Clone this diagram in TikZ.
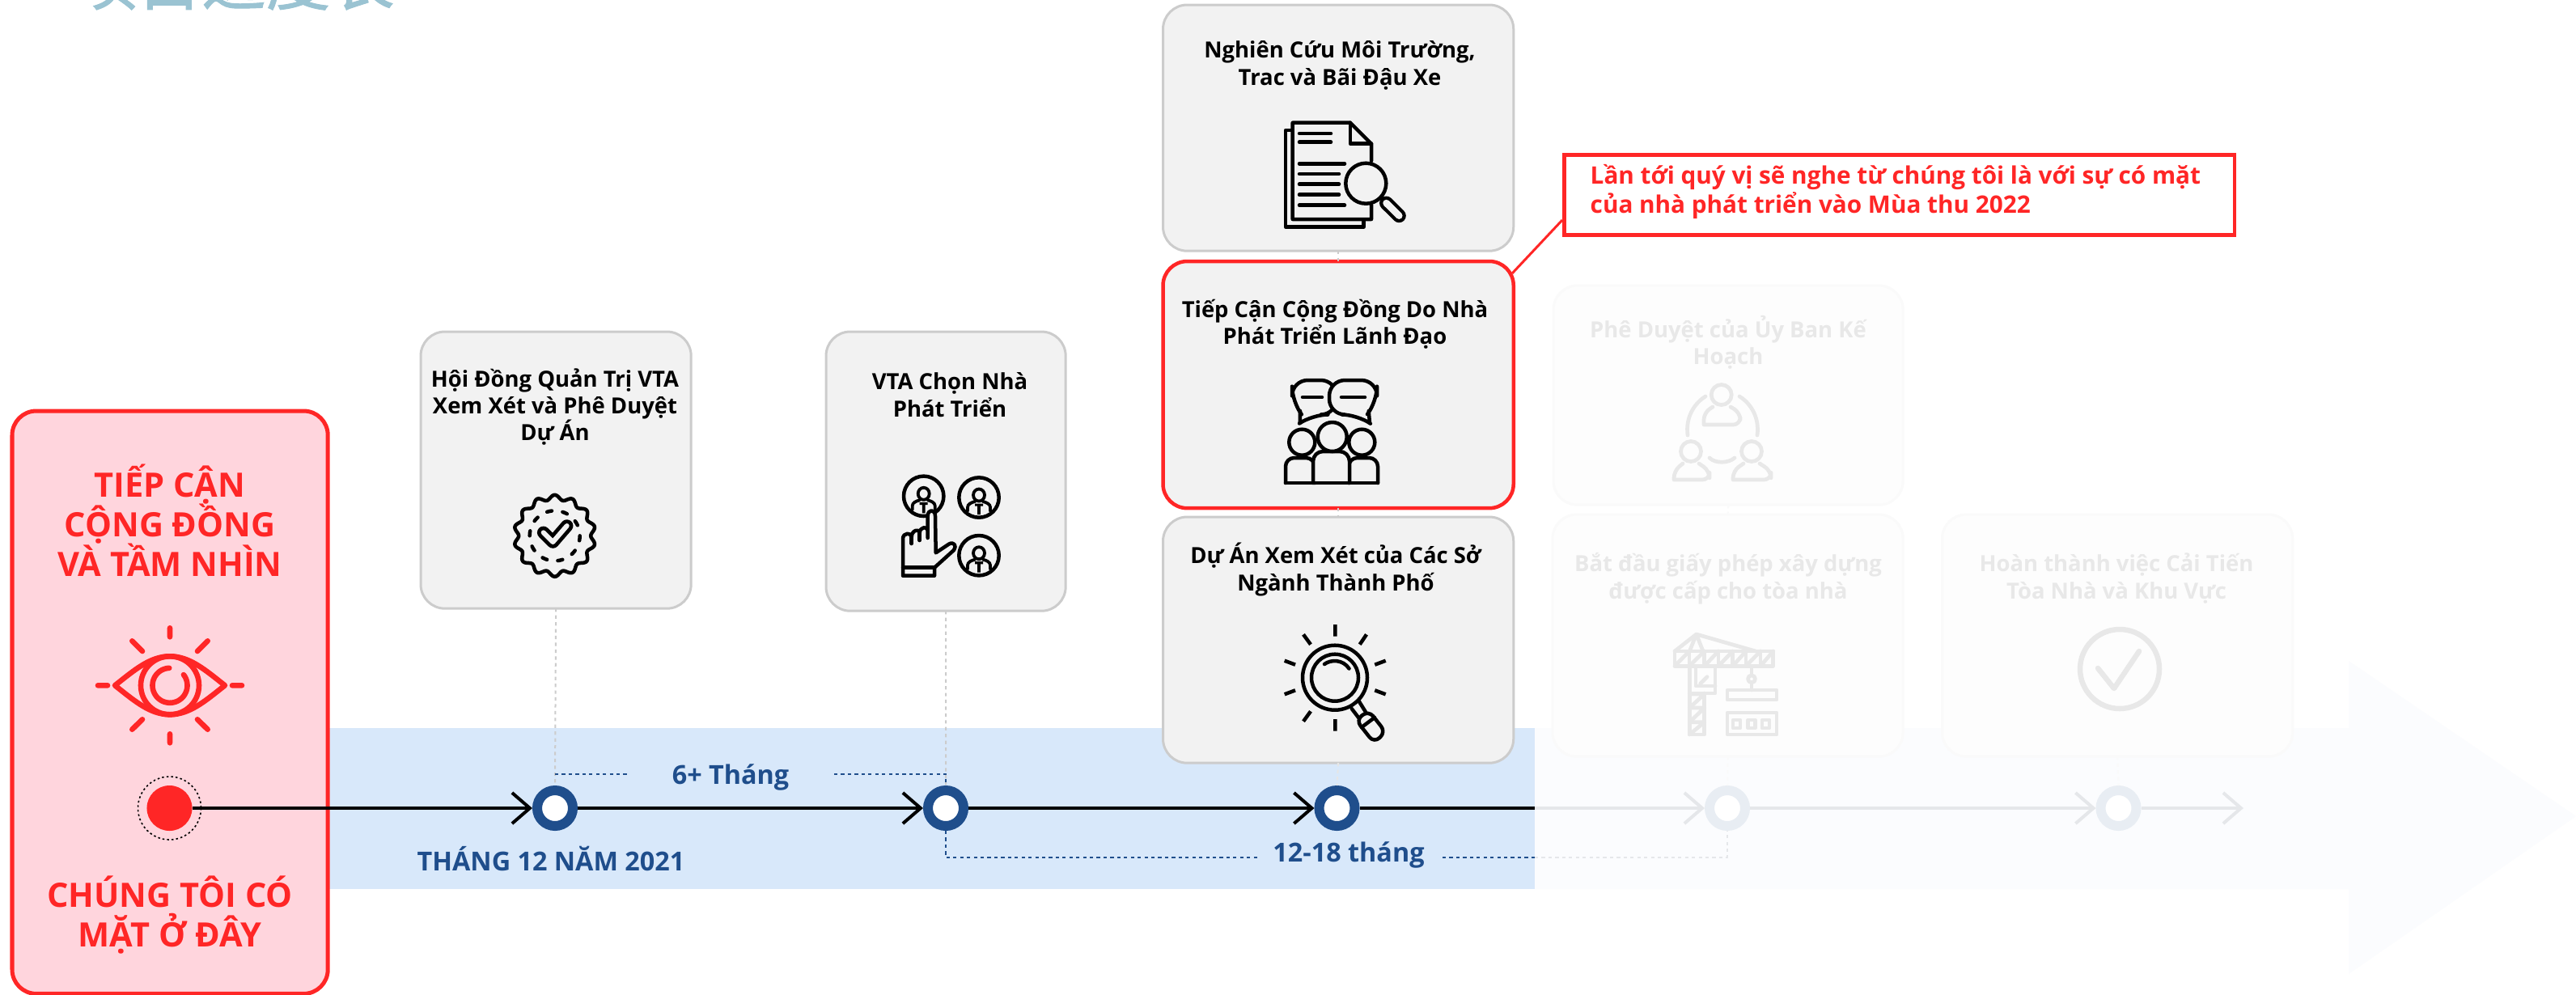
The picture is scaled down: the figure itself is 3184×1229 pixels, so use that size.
\documentclass[tikz,border=0pt]{standalone}
\usepackage{fontspec}
\setmainfont{Open Sans}
\newfontfamily\cjkfont[FakeBold=1.2]{Noto Sans CJK SC}
\usetikzlibrary{arrows.meta,calc}
\lineskiplimit=-10pt
\def\pu{0.28453pt}
\definecolor{redc}{HTML}{FF2626}
\definecolor{pinkc}{HTML}{FFD5DD}
\definecolor{bandc}{HTML}{D8E8FA}
\definecolor{palec}{HTML}{FBFCFE}
\definecolor{bluec}{HTML}{1F4E8C}
\definecolor{grayf}{HTML}{F2F2F2}
\definecolor{grayb}{HTML}{CCCCCC}
\definecolor{fadet}{HTML}{E8E8E8}
\definecolor{fadeb}{HTML}{FDFDFD}
\definecolor{fades}{HTML}{FAFAFA}
\definecolor{fadel}{HTML}{E5E7EA}
\definecolor{fader}{HTML}{E8EDF3}
\definecolor{titlec}{HTML}{9AC3D2}
\tikzset{
 box/.style={draw=grayb,fill=grayf,line width=3*\pu,rounded corners=8.5pt,inner sep=0pt,outer sep=0pt},
 redbox/.style={box,draw=redc,line width=4.5*\pu},
 fadebox/.style={box,draw=fades,fill=fadeb},
 boxtext/.style={font=\fontsize{7.8pt}{9.5pt}\bfseries\selectfont,align=center,text=black,inner sep=0pt},
 fadetext/.style={boxtext,text=fadet},
 redtitle/.style={font=\fontsize{11.8pt}{13.95pt}\bfseries\selectfont,align=center,text=redc,inner sep=0pt},
 bluetext/.style={font=\fontsize{9.2pt}{11pt}\bfseries\selectfont,text=bluec,inner sep=0pt},
 ring/.style={circle,draw=bluec,fill=white,line width=12*\pu,minimum size=44*\pu,inner sep=0pt,outer sep=6*\pu},
 fadering/.style={ring,draw=fader},
 tl/.style={line width=4.5*\pu,-{Straight Barb[length=22*\pu,width=38*\pu,line width=4*\pu]}},
 ftl/.style={tl,draw=fadel},
 gdot/.style={draw=grayb,line width=2*\pu,dash pattern=on 1.2pt off 1.2pt},
 fdot/.style={draw=fades,line width=2*\pu,dash pattern=on 1.2pt off 1.2pt},
 bdot/.style={draw=bluec,line width=2.2*\pu,dash pattern=on 1.2pt off 1.2pt},
 icon/.style={draw=black,line width=4.5*\pu,line cap=round,line join=round},
 ficon/.style={draw=fadet,line width=4.7*\pu,line cap=round,line join=round},
 ricon/.style={draw=redc,line width=6.6*\pu,line cap=round,line join=round},
}
\begin{document}
\begin{tikzpicture}[x=0.01cm,y=-0.01cm]
\useasboundingbox (0,0) rectangle (3184,1229);
\fill[white] (0,0) rectangle (3184,1229);
\begin{scope}
\clip (0,0) rectangle (3184,1229);
\node[anchor=base,inner sep=0pt,text=titlec,font=\cjkfont\fontsize{22.6pt}{24pt}\selectfont] (title) at (289,6) {项目进度表};
\end{scope}

% background arrow and band
\fill[palec] (1897,900) -- (2903,900) -- (2903,817) -- (3184,1009) -- (2903,1204) -- (2903,1099) -- (1897,1099) -- cycle;
\fill[bandc] (406,900) rectangle (1897,1099);

% red panel
\node[redbox,fill=pinkc,minimum width=390*\pu,minimum height=720*\pu,anchor=north west,line width=5*\pu] (panel) at (15,508) {};
\node[redtitle] (paneltop) at (210,643) {TIẾP CẬN\\CỘNG ĐỒNG\\VÀ TẦM NHÌN};
\node[redtitle] (panelbot) at (210,1131) {CHÚNG TÔI CÓ\\MẶT Ở ĐÂY};

% boxes
\node[box,minimum width=334*\pu,minimum height=342*\pu,anchor=north west] (hoidong) at (520,410) {};
\node[box,minimum width=296*\pu,minimum height=345*\pu,anchor=north west] (vta) at (1021,410) {};
\node[box,minimum width=433*\pu,minimum height=304*\pu,anchor=north west] (nghien) at (1437.5,6) {};
\node[redbox,minimum width=433*\pu,minimum height=305*\pu,anchor=north west] (tiep) at (1437.5,323) {};
\node[box,minimum width=433*\pu,minimum height=304*\pu,anchor=north west] (duan) at (1437.5,639) {};
\node[fadebox,minimum width=432*\pu,minimum height=271*\pu,anchor=north west] (phe) at (1920,353) {};
\node[fadebox,minimum width=433*\pu,minimum height=299*\pu,anchor=north west] (batdau) at (1919,636) {};
\node[fadebox,minimum width=433*\pu,minimum height=299*\pu,anchor=north west] (hoan) at (2400.5,636) {};
\node[draw=redc,fill=white,line width=4.5*\pu,minimum width=828*\pu,minimum height=99*\pu,anchor=north west,inner sep=0pt] (callout) at (1931,189) {};
\coordinate (cala) at (1869,338);
\coordinate (calb) at (1931,272);
\draw[redc,line width=3*\pu] (cala) -- (calb);

\node[boxtext] (t1) at (686,503) {Hội Đồng Quản Trị VTA\\Xem Xét và Phê Duyệt\\Dự Án};
\node[boxtext] (t2) at (1174,488) {VTA Chọn Nhà\\Phát Triển};
\node[boxtext] (t3) at (1656,81) {Nghiên Cứu Môi Trường,\\Trac và Bãi Đậu Xe};
\node[boxtext] (t4) at (1650,401) {Tiếp Cận Cộng Đồng Do Nhà\\Phát Triển Lãnh Đạo};
\node[boxtext] (t5) at (1651,704) {Dự Án Xem Xét của Các Sở\\Ngành Thành Phố};
\node[fadetext] (t6) at (2136,423) {Phê Duyệt của Ủy Ban Kế\\Hoạch};
\node[fadetext] (t7) at (2136,715) {Bắt đầu giấy phép xây dựng\\được cấp cho tòa nhà};
\node[fadetext] (t8) at (2616,715) {Hoàn thành việc Cải Tiến\\Tòa Nhà và Khu Vực};
\node[boxtext,text=redc,align=left,anchor=west,font=\fontsize{8.45pt}{10pt}\bfseries\selectfont] (t9) at (1965,237) {Lần tới quý vị sẽ nghe từ chúng tôi là với sự có mặt\\của nhà phát triển vào Mùa thu 2022};

% timeline nodes
\node[circle,fill=redc,minimum size=56*\pu,inner sep=0pt,outer sep=0pt] (dot) at (209.5,999) {};
\draw[black,line width=1.6*\pu,dash pattern=on 0.7pt off 0.9pt] (dot.center) circle (39);
\node[ring] (r1) at (686,999) {};
\node[ring] (r2) at (1169,999) {};
\node[ring] (r3) at (1652.5,999) {};
\node[fadering] (r4) at (2135,999) {};
\node[fadering] (r5) at (2618.5,999) {};
\coordinate (endtl) at (2773,999);
\coordinate (fadeat) at (1897,999);

% faint connectors between boxes
\draw[gdot] (hoidong.south) -- (r1.north);
\draw[gdot] (vta.south) -- (r2.north);
\draw[gdot] (nghien.south) -- (tiep.north);
\draw[gdot] (tiep.south) -- (duan.north);
\draw[gdot,draw=grayb!50] (duan.south) -- (r3.north);
\draw[fdot] (phe.south) -- (batdau.north);
\draw[fdot] (batdau.south) -- (r4.north);
\draw[fdot] (hoan.south) -- (r5.north);

% timeline
\draw[tl] (dot) -- (r1);
\draw[tl] (r1) -- (r2);
\draw[tl] (r2) -- (r3);
\draw[ftl] (fadeat) -- (r4);
\draw[ftl] (r4) -- (r5);
\draw[ftl] (r5) -- (endtl);
\draw[black,line width=4.5*\pu] (r3) -- (fadeat);

% durations
\node[bluetext] (d0) at (681,1061) {THÁNG 12 NĂM 2021};
\node[bluetext] (d1) at (903,961) {6+ Tháng};
\node[bluetext] (d2) at (1667,1057) {12-18 tháng};
\coordinate (a1) at (686,957); \coordinate (a2) at (776,957);
\coordinate (a3) at (1031,957); \coordinate (a4) at (1169,957);
\draw[bdot] (a1) -- (a2);
\draw[bdot] (a3) -- (a4) -- (r2.north);
\coordinate (b1) at (1169,1060); \coordinate (b2) at (1557,1060);
\coordinate (b3) at (1783,1060); \coordinate (b4) at (1897,1060); \coordinate (b5) at (2135,1060);
\draw[bdot] (r2.south) -- (b1) -- (b2);
\draw[bdot] (b3) -- (b4);
\draw[bdot,draw=fadel] (b4) -- (b5) -- (r4.south);

% eye icon
\begin{scope}[shift={(210,847.3)}]
\draw[ricon] (-68,0) .. controls (-45,-18) and (-25,-36) .. (0,-36) .. controls (25,-36) and (45,-18) .. (68,0) .. controls (45,18) and (25,36) .. (0,36) .. controls (-25,36) and (-45,18) .. (-68,0) -- cycle;
\draw[ricon] (0,0) circle (36);
\draw[ricon] plot[domain=-38:268,samples=60,smooth] ({21.5*cos(\x)},{21.5*sin(\x)});
\draw[ricon] (-89,0) -- (-77,0) (77,0) -- (89,0) (0,-71) -- (0,-60) (0,60) -- (0,71) (-46.7,-55) -- (-34,-42.3) (46.7,-55) -- (34,-42.3) (-46.7,54.4) -- (-34,42) (46.7,54.4) -- (34,42);
\end{scope}

% badge icon
\begin{scope}[shift={(685.7,662.3)}]
\draw[icon] plot[domain=0:360,samples=225,smooth] ({(47.5-3*cos(14*\x))*cos(\x)},{(47.5-3*cos(14*\x))*sin(\x)}) -- cycle;
\draw[icon,dash pattern=on 1.7pt off 3.84pt] (0,0) circle (31);
\draw[black,line width=15.5*\pu,line join=round,line cap=round] (-14,-4) -- (-2.3,7.7) -- (15,-12.3);
\draw[grayf,line width=6*\pu,line join=round,line cap=round] (-14,-4) -- (-2.3,7.7) -- (15,-12.3);
\end{scope}

% hand and people icon
\foreach \cx/\cy in {1141.7/613.3,1210/615,1210/686.7}{
 \begin{scope}[shift={(\cx,\cy)}]
 \draw[icon] (0,0) circle (24.7);
 \draw[icon,line width=3.8*\pu] (0,-3) ellipse (7 and 7.5);
 \draw[icon,line width=3.8*\pu] (-14,17) -- (-14,12) .. controls (-14,8) and (-9,6) .. (-5,5);
 \draw[icon,line width=3.8*\pu] (14,17) -- (14,12) .. controls (14,8) and (9,6) .. (5,5);
 \fill[black] (-5,7.5) -- (5,7.5) -- (5,10.7) -- (1.8,10.7) -- (1.8,21) -- (-1.8,21) -- (-1.8,10.7) -- (-5,10.7) -- cycle;
 \end{scope}
}
\draw[icon,fill=grayf] (1146.7,665) -- (1146.7,638) .. controls (1146.7,629) and (1156,629) .. (1156,638) -- (1156.7,683.3) -- (1173,672.5) .. controls (1179,669) and (1183,675) .. (1179,680) -- (1155,701.7) -- (1155,711.7) -- (1116,711.7) -- (1116,666) .. controls (1116,658) and (1126.7,658) .. (1126.7,664) .. controls (1126.7,655) and (1136.7,653) .. (1136.7,659) .. controls (1136.7,651) and (1146.7,650) .. (1146.7,656);
\draw[icon] (1126.7,664) -- (1126.7,672) (1136.7,659) -- (1136.7,668) (1116,701.7) -- (1155,701.7);

% document icon
\begin{scope}
\draw[icon] (1596,161) -- (1589,161) -- (1589,280.5) -- (1685.5,280.5) -- (1685.5,272);
\draw[icon] (1695,199) -- (1695,177.7) -- (1669,151.7) -- (1597.7,151.7) -- (1597.7,271) -- (1695,271) -- (1695,253);
\draw[icon] (1669,151.7) -- (1669,177.7) -- (1695,177.7);
\draw[icon] (1606,165) -- (1645,165) (1606,175.7) -- (1645,175.7) (1606,202.3) -- (1662,202.3) (1606,215) -- (1655,215) (1606,227.7) -- (1655,227.7) (1606,240.7) -- (1655,240.7) (1606,253.7) -- (1662,253.7);
\draw[icon,fill=grayf] (1688.3,226.7) circle (25);
\draw[icon] (1708,245) -- (1712,249);
\draw[black,line width=17*\pu,line cap=round] (1713.5,251) -- (1729.3,266.7);
\draw[grayf,line width=8.5*\pu,line cap=round] (1713.5,251) -- (1729.3,266.7);
\end{scope}

% meeting icon
\draw[icon,fill=grayf,rounded corners=5.5pt] (1607,510) -- (1597,497) -- (1597,470) -- (1652,470) -- (1652,512.5) -- (1622,512.5) [sharp corners] -- (1606.7,523) -- (1607,508);
\draw[icon,fill=grayf,rounded corners=5.5pt] (1691.7,510) -- (1702,497) -- (1702,470) -- (1643,470) -- (1643,512.5) -- (1678,512.5) [sharp corners] -- (1693,523) -- (1691.7,508);
\draw[icon] (1610,491) -- (1634,491) (1658,491) -- (1687,491);
\draw[icon,fill=grayf,rounded corners=3pt] (1589,597) -- (1589,566) -- (1625,566) -- (1625,597);
\draw[icon,fill=grayf,rounded corners=3pt] (1703,597) -- (1703,566) -- (1667,566) -- (1667,597);
\draw[icon,fill=grayf,rounded corners=3.5pt] (1623,597) -- (1623,558) -- (1668,558) -- (1668,597);
\draw[icon,fill=grayf] (1609.3,546.7) circle (16);
\draw[icon,fill=grayf] (1683.3,546.7) circle (16);
\draw[icon,fill=grayf] (1646.7,540) circle (18);
\draw[icon] (1589,597) -- (1703,597);

% magnifier with rays
\draw[icon,line cap=butt] (1650.3,772) -- (1650.3,786.7) (1650.3,889) -- (1650.3,903.7) (1611,784.3) -- (1620,796.7) (1689,784.3) -- (1680.7,796.7) (1611,891.7) -- (1620,879.3) (1587.7,816.7) -- (1601,821.7) (1587.7,858.3) -- (1601,853.3) (1712.7,816.7) -- (1699.3,821.7) (1712.7,858.3) -- (1699.3,853.3);
\draw[icon] (1650,837.7) circle (40) (1650,837.7) circle (29);
\draw[icon] (1637,821) .. controls (1645,815) and (1660,815) .. (1667.5,826.5);
\draw[icon] (1670.7,876) -- (1679.3,887.3) (1680,867.3) -- (1688.3,880.7);
\draw[icon,rounded corners=2.5pt] (1676,890) -- (1691.7,878.3) -- (1712.7,905) -- (1698.3,918.3) -- cycle;
\draw[icon] (1683,899) -- (1699,887);

% faded group icon
\begin{scope}
\draw[ficon] (2127.7,488) circle (12.5);
\draw[ficon,rounded corners=2.5pt] (2106,525) -- (2106,510) -- (2117,503) (2139,503) -- (2151,510) -- (2151,525) -- (2106,525);
\draw[ficon] (2090,558) circle (12.5) (2165,558) circle (12.5);
\draw[ficon,rounded corners=2.5pt] (2069,593) -- (2069,582) -- (2080,573) (2100,573) -- (2113,582) -- (2113,593) -- (2069,593);
\draw[ficon,rounded corners=2.5pt] (2142,593) -- (2142,582) -- (2155,573) (2175,573) -- (2189,582) -- (2189,593) -- (2142,593);
\draw[ficon] (2086,538) .. controls (2083,515) and (2095,498) .. (2108,490);
\draw[ficon] (2172,538) .. controls (2175,515) and (2163,498) .. (2150,490);
\draw[ficon] (2113,566) .. controls (2120,573) and (2136,573) .. (2144,566);
\end{scope}

% faded crane icon
\begin{scope}
\draw[ficon] (2070,805) -- (2096.7,784) -- (2170,805) (2096.7,784) -- (2088.3,805) (2096.7,784) -- (2105,805);
\draw[ficon] (2070,805) rectangle (2191.7,823.3);
\foreach \sx/\ex in {2070/2088,2088/2106.7,2106.7/2124,2124/2141.7,2141.7/2158,2158/2176,2176/2191.7}{\draw[ficon] (\sx,823.3) -- (\ex,805);}
\foreach \sx in {2088,2106.7,2124,2141.7,2158,2176}{\draw[ficon] (\sx,805) -- (\sx,823.3);}
\draw[ficon] (2088.3,823.3) -- (2088.3,908) -- (2106.7,908) -- (2106.7,857);
\draw[ficon] (2096,823.3) -- (2096,848) -- (2120,848);
\draw[ficon] (2088.3,857) -- (2120,857) -- (2120,823.3);
\draw[ficon] (2101.7,845) -- (2110,836.7);
\foreach \sy/\ey in {875/858,892.7/875,908/892.7}{\draw[ficon] (2088.3,\sy) -- (2106.7,\ey) (2088.3,\ey) -- (2106.7,\ey);}
\draw[ficon] (2165,823.3) -- (2165,853);
\draw[ficon,fill=fadeb] (2165,839.3) circle (4.5);
\draw[ficon] (2135,853) rectangle (2196,865);
\draw[ficon] (2135,881) rectangle (2196,908);
\draw[ficon] (2142,890) rectangle (2151,900) (2160.5,890) rectangle (2169.5,900) (2178,890) rectangle (2187,900);
\end{scope}

% faded check icon
\draw[ficon,line width=6.5*\pu] (2620,827) circle (49);
\draw[ficon,line width=6.5*\pu] (2593,826) -- (2613,851) -- (2644,805);
\end{tikzpicture}
\end{document}
